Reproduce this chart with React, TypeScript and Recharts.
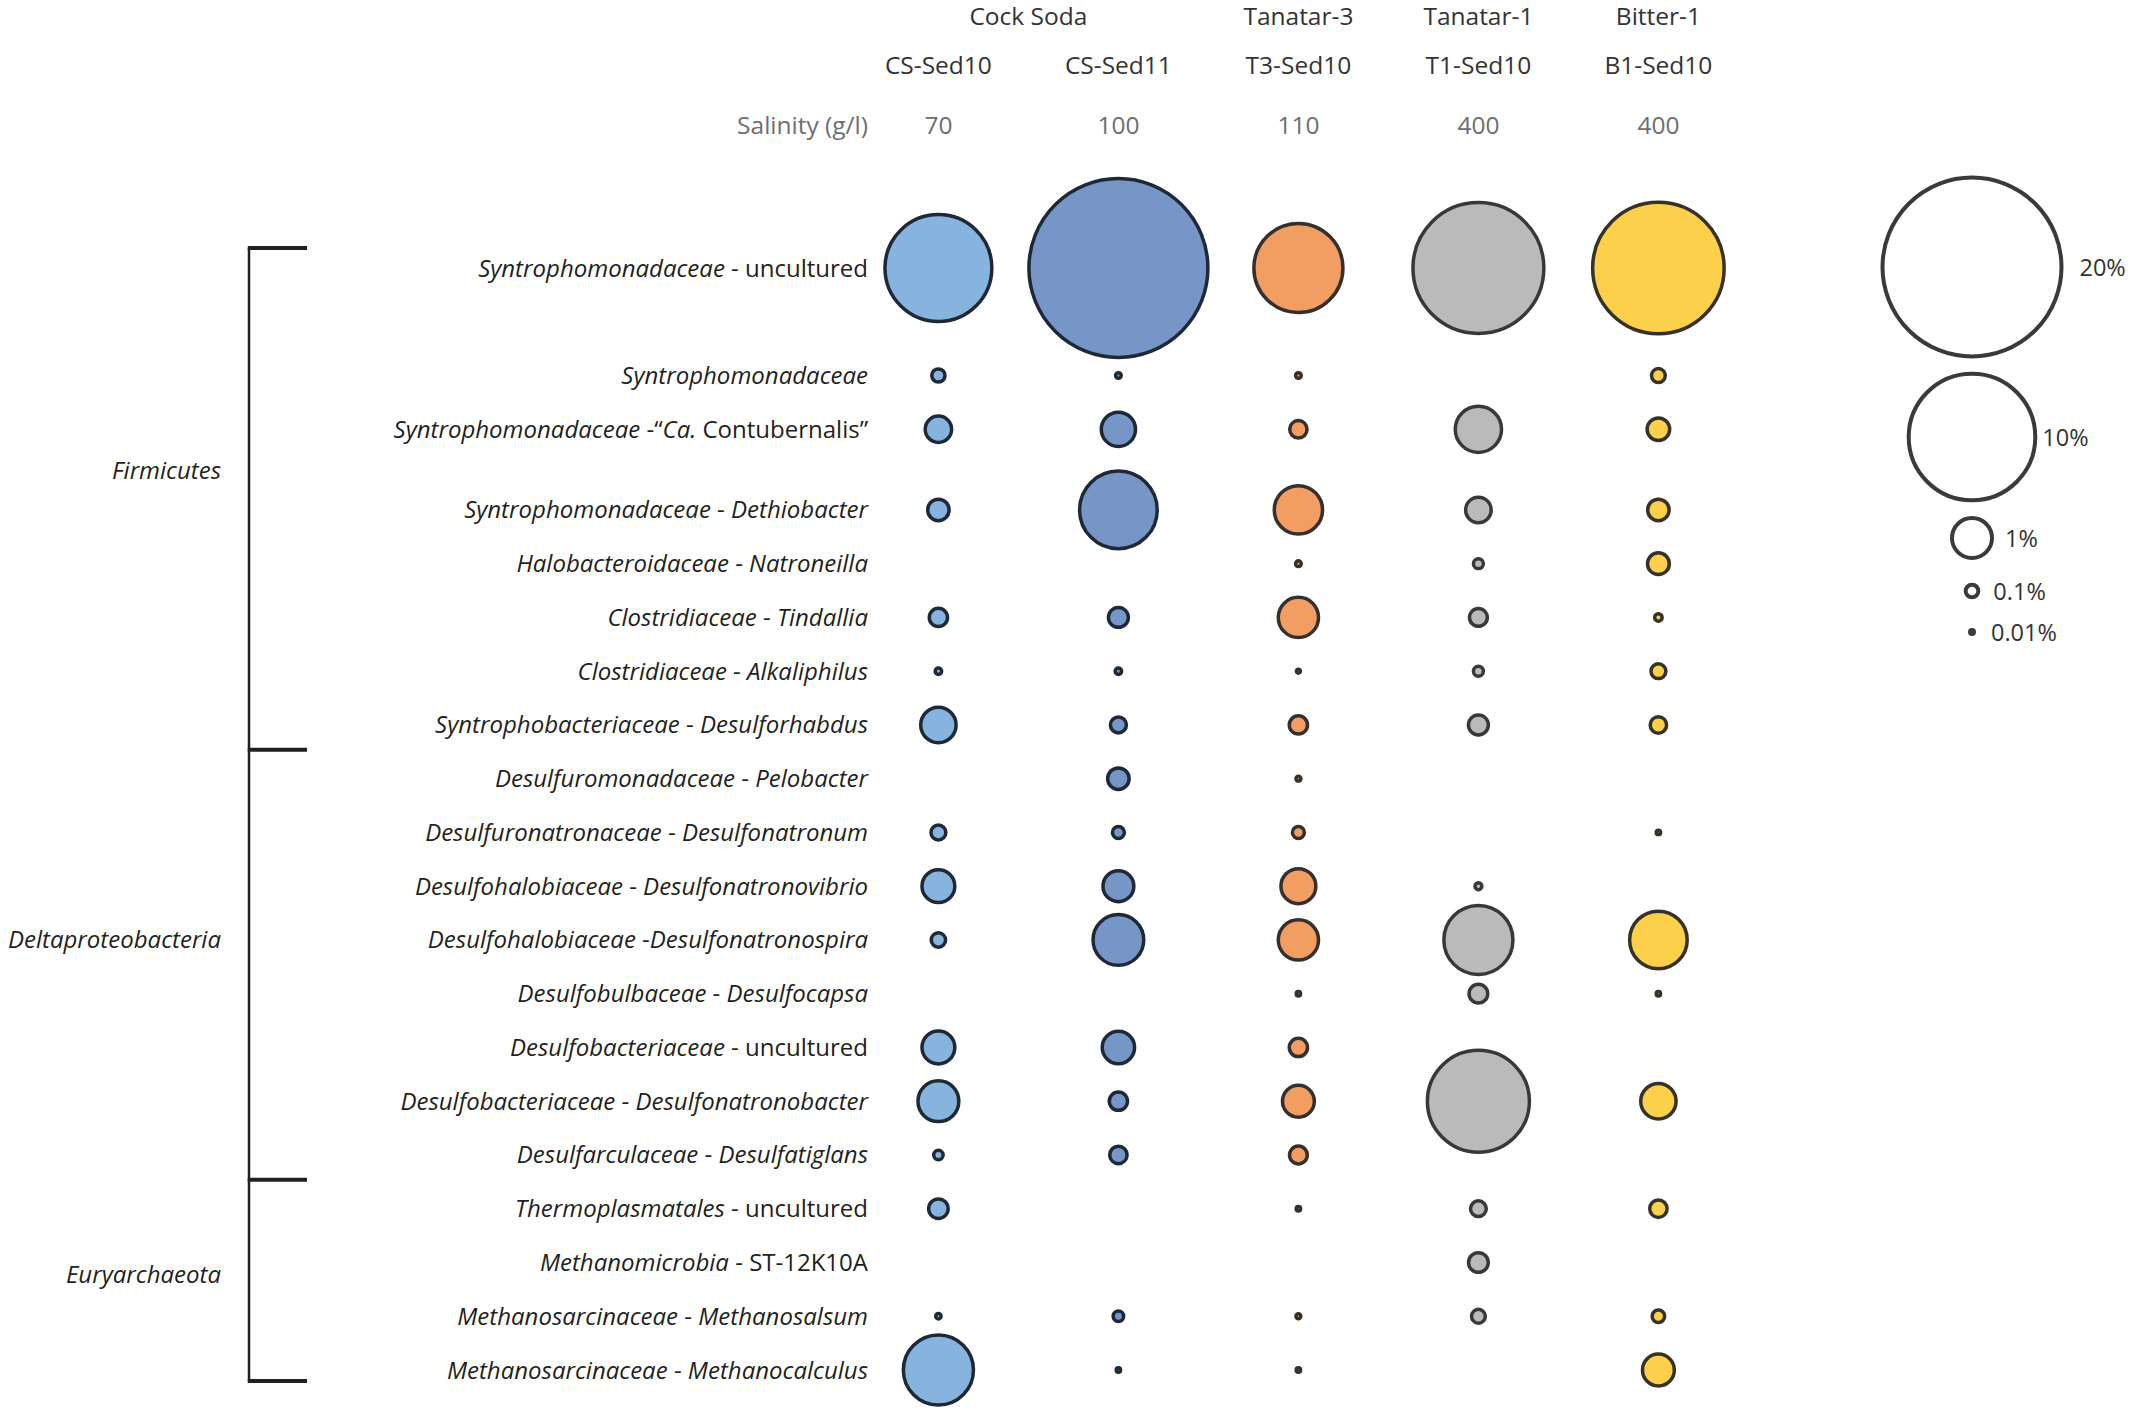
import React from 'react';
import { ScatterChart, Scatter, XAxis, YAxis, ZAxis } from 'recharts';

// ---------------- data ----------------
const SAMPLES = ['CS-Sed10', 'CS-Sed11', 'T3-Sed10', 'T1-Sed10', 'B1-Sed10'];
const SITES = ['Cock Soda', 'Cock Soda', 'Tanatar-3', 'Tanatar-1', 'Bitter-1'];
const SALINITY = [70, 100, 110, 400, 400];

// *...* marks italic text
const TAXA = [
  '*Syntrophomonadaceae* - uncultured',
  '*Syntrophomonadaceae*',
  '*Syntrophomonadaceae* -\u201C*Ca.* Contubernalis\u201D',
  '*Syntrophomonadaceae* - *Dethiobacter*',
  '*Halobacteroidaceae* - *Natroneilla*',
  '*Clostridiaceae* - *Tindallia*',
  '*Clostridiaceae* - *Alkaliphilus*',
  '*Syntrophobacteriaceae* - *Desulforhabdus*',
  '*Desulfuromonadaceae* - *Pelobacter*',
  '*Desulfuronatronaceae* - *Desulfonatronum*',
  '*Desulfohalobiaceae* - *Desulfonatronovibrio*',
  '*Desulfohalobiaceae* -*Desulfonatronospira*',
  '*Desulfobulbaceae* - *Desulfocapsa*',
  '*Desulfobacteriaceae* - uncultured',
  '*Desulfobacteriaceae* - *Desulfonatronobacter*',
  '*Desulfarculaceae* - *Desulfatiglans*',
  '*Thermoplasmatales* - uncultured',
  '*Methanomicrobia* - ST-12K10A',
  '*Methanosarcinaceae* - *Methanosalsum*',
  '*Methanosarcinaceae* - *Methanocalculus*',
];

const PHYLA = ['Firmicutes', 'Deltaproteobacteria', 'Euryarchaeota'];
const PHYLUM_OF_ROW = [0, 0, 0, 0, 0, 0, 0, 0, 1, 1, 1, 1, 1, 1, 1, 1, 2, 2, 2, 2];

// relative abundance (%), null = not detected
const CS_SED10 = [7.2, 0.11, 0.44, 0.29, null, 0.21, 0.026, 0.79, null, 0.14, 0.68, 0.13, null, 0.68, 1.05, 0.056, 0.24, null, 0.018, 3.1];
const CS_SED11 = [20.2, 0.02, 0.74, 3.8, null, 0.25, 0.026, 0.16, 0.29, 0.09, 0.6, 1.62, null, 0.66, 0.21, 0.19, null, null, 0.069, 0.012];
const T3_SED10 = [5.0, 0.02, 0.19, 1.47, 0.02, 1.02, 0.01, 0.21, 0.015, 0.09, 0.77, 1.02, 0.012, 0.21, 0.64, 0.2, 0.012, null, 0.015, 0.012];
const T1_SED10 = [10.8, null, 1.35, 0.41, 0.062, 0.2, 0.062, 0.25, null, null, 0.03, 3.01, 0.22, null, 6.56, null, 0.156, 0.245, 0.12, null];
const B1_SED10 = [10.9, 0.12, 0.32, 0.29, 0.3, 0.035, 0.14, 0.17, null, 0.012, null, 2.09, 0.012, null, 0.79, null, 0.19, null, 0.098, 0.64];
const SERIES = [CS_SED10, CS_SED11, T3_SED10, T1_SED10, B1_SED10];

const LEGEND_VALUES = [20, 10, 1, 0.1, 0.01];
const LEGEND_LABELS = ['20%', '10%', '1%', '0.1%', '0.01%'];

// ---------------- styles / layout ----------------
const W = 2132;
const H = 1414;
const FONT = "'Open Sans', 'Noto Sans', sans-serif";
const FILLS = ['#86b4de', '#7796c8', '#f29e63', '#bababa', '#fdd04c'];
const STROKES = ['#1f2935', '#1f2935', '#35302d', '#383838', '#35322a'];
const TEXT = '#231f20';
const HEAD = '#333333';
const GREY = '#6d6e71';
const ROW_FS = 24;
const HEAD_FS = 24.5;

const PLOT_TOP = 268;
const PLOT_BOTTOM = 1370;
const PLOT_LEFT = 870;
const COL_STEP = 180;
const FIRST_COL = 938.4;
const X_MIN = -(FIRST_COL - PLOT_LEFT) / COL_STEP;
const X_MAX = 4.5;
const PLOT_RIGHT = PLOT_LEFT + (X_MAX - X_MIN) * COL_STEP;

const MAX_VALUE = 20;
const MAX_AREA = Math.PI * 89.5 * 89.5; // area of the 20 % circle
const STROKE_W = 3.5;

// rows are spaced in half-row units; extra space after the large first row and before Dethiobacter
const EXTRA_BEFORE: Record<number, number> = { 1: 2, 3: 1 };
const ROW_SLOTS: number[] = [];
{
  let s = 0;
  TAXA.forEach((_, i) => {
    if (i > 0) s += 2 + (EXTRA_BEFORE[i] || 0);
    ROW_SLOTS.push(s);
  });
}
const SLOT_MAX = ROW_SLOTS[ROW_SLOTS.length - 1];
const rowY = (slot: number) => PLOT_TOP + (slot * (PLOT_BOTTOM - PLOT_TOP)) / SLOT_MAX;

// site groups: centre (in sample-index units) of all samples of the same site
const SITE_CENTER: Record<string, number> = {};
const SITE_FIRST: Record<string, number> = {};
SITES.forEach((s, i) => {
  if (SITE_FIRST[s] === undefined) SITE_FIRST[s] = i;
});
Object.keys(SITE_FIRST).forEach((s) => {
  const idx = SITES.map((x, i) => (x === s ? i : -1)).filter((i) => i >= 0);
  SITE_CENTER[s] = idx.reduce((a, b) => a + b, 0) / idx.length;
});

const seriesData = SERIES.map((vals, s) =>
  vals
    .map((v, r) => (v == null ? null : { x: s, y: ROW_SLOTS[r], z: v, taxon: TAXA[r] }))
    .filter(Boolean) as { x: number; y: number; z: number; taxon: string }[]
);

function parseLabel(label: string) {
  const parts = label.split('*');
  return parts.map((t, i) => ({ text: t, italic: i % 2 === 1 })).filter((p) => p.text.length > 0);
}

const RowTick = (props: any) => {
  const { x, y, payload } = props;
  const row = ROW_SLOTS.indexOf(payload.value);
  if (row < 0) return null;
  return (
    <text x={x} y={y} dy={8.5} textAnchor="end" fontFamily={FONT} fontSize={ROW_FS} fill={TEXT}>
      {parseLabel(TAXA[row]).map((p, i) => (
        <tspan key={i} fontStyle={p.italic ? 'italic' : 'normal'}>
          {p.text.replace(/ /g, '\u00A0')}
        </tspan>
      ))}
    </text>
  );
};

const SampleTick = (props: any) => {
  const { x, payload } = props;
  const i = payload.value;
  const site = SITES[i];
  const isFirst = SITE_FIRST[site] === i;
  return (
    <g>
      {isFirst && (
        <text
          x={x + (SITE_CENTER[site] - i) * COL_STEP}
          y={25}
          textAnchor="middle"
          fontFamily={FONT}
          fontSize={HEAD_FS}
          fill={HEAD}
        >
          {site}
        </text>
      )}
      <text x={x} y={74} textAnchor="middle" fontFamily={FONT} fontSize={HEAD_FS} fill={HEAD}>
        {SAMPLES[i]}
      </text>
      <text x={x} y={134} textAnchor="middle" fontFamily={FONT} fontSize={HEAD_FS} fill={GREY}>
        {SALINITY[i]}
      </text>
    </g>
  );
};

const areaOf = (v: number) => (v / MAX_VALUE) * MAX_AREA;
const radiusOf = (v: number) => Math.sqrt(areaOf(v) / Math.PI);

const LEGEND_X = 1972;
const LEGEND_Y = [267, 437, 538, 591, 632];
const LEGEND_LABEL_GAP = [16, 5, 11, 13, 15];

const Overlay = () => {
  const bracketX = 249;
  const tickEnd = 307;
  const top = rowY(ROW_SLOTS[0]) - 20;
  const bottom = rowY(SLOT_MAX) + 11;
  const boundaries: number[] = [top];
  for (let r = 1; r < TAXA.length; r++) {
    if (PHYLUM_OF_ROW[r] !== PHYLUM_OF_ROW[r - 1]) {
      boundaries.push((rowY(ROW_SLOTS[r - 1]) + rowY(ROW_SLOTS[r])) / 2 - 2);
    }
  }
  boundaries.push(bottom);
  const phylumLabelY = [470, 939.5, 1274];
  return (
    <svg width={W} height={H} style={{ position: 'absolute', left: 0, top: 0, pointerEvents: 'none' }}>
      <text x={PLOT_LEFT - 2} y={134} textAnchor="end" fontFamily={FONT} fontSize={HEAD_FS} fill={GREY}>
        Salinity (g/l)
      </text>
      <line x1={bracketX} x2={bracketX} y1={top} y2={bottom} stroke={TEXT} strokeWidth={2.5} />
      {boundaries.map((b, i) => (
        <line key={i} x1={bracketX - 1.25} x2={tickEnd} y1={b} y2={b} stroke={TEXT} strokeWidth={4} />
      ))}
      {PHYLA.map((p, i) => (
        <text key={p} x={221} y={phylumLabelY[i]} dy={8.5} textAnchor="end" fontFamily={FONT} fontSize={ROW_FS} fontStyle="italic" fill={TEXT}>
          {p}
        </text>
      ))}
      {LEGEND_VALUES.map((v, i) => {
        const r = radiusOf(v);
        return (
          <g key={v}>
            <circle cx={LEGEND_X} cy={LEGEND_Y[i]} r={r} fill="#fff" stroke="#3a3a3a" strokeWidth={4} />
            <text
              x={LEGEND_X + r + 2 + LEGEND_LABEL_GAP[i]}
              y={LEGEND_Y[i]}
              dy={8.5}
              fontFamily={FONT}
              fontSize={23.5}
              fill="#333"
            >
              {LEGEND_LABELS[i]}
            </text>
          </g>
        );
      })}
    </svg>
  );
};

export default function App() {
  const sampleAxisH = 160;
  return (
    <div style={{ position: 'absolute', left: 0, top: 0, width: W, height: H, background: '#fff', fontFamily: FONT }}>
      <ScatterChart
        width={W}
        height={H}
        margin={{ top: PLOT_TOP - sampleAxisH, right: W - PLOT_RIGHT, bottom: H - PLOT_BOTTOM, left: 0 }}
      >
        <XAxis
          type="number"
          dataKey="x"
          orientation="top"
          domain={[X_MIN, X_MAX]}
          ticks={[0, 1, 2, 3, 4]}
          interval={0}
          tick={<SampleTick />}
          tickLine={false}
          axisLine={false}
          height={sampleAxisH}
        />
        <YAxis
          type="number"
          dataKey="y"
          domain={[0, SLOT_MAX]}
          reversed
          ticks={ROW_SLOTS}
          interval={0}
          width={PLOT_LEFT}
          tickLine={false}
          axisLine={false}
          tickSize={0}
          tickMargin={2}
          tick={<RowTick />}
        />
        <ZAxis type="number" dataKey="z" domain={[0, MAX_VALUE]} range={[0, MAX_AREA]} />
        {seriesData.map((d, s) => (
          <Scatter
            key={SAMPLES[s]}
            name={SAMPLES[s]}
            data={d}
            fill={FILLS[s]}
            stroke={STROKES[s]}
            strokeWidth={STROKE_W}
            isAnimationActive={false}
          />
        ))}
      </ScatterChart>
      <Overlay />
    </div>
  );
}
